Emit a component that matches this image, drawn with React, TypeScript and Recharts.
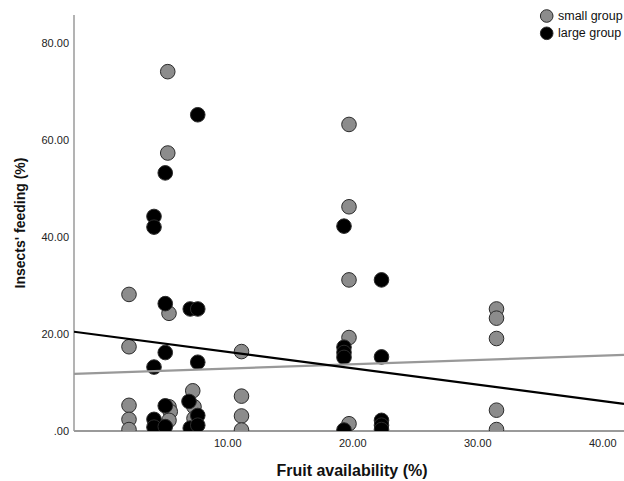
import React from 'react';
import { ScatterChart, Scatter, XAxis, YAxis } from 'recharts';

// values
const smallX = [5.2, 5.2, 2.1, 5.3, 2.1, 11.1, 2.1, 2.1, 2.1, 5.3, 5.4, 5.3, 7.2, 7.3, 7.3, 11.1, 11.1, 11.1, 19.7, 19.7, 19.7, 19.7, 19.7, 31.5, 31.5, 31.5, 31.5, 31.5];
const smallY = [74.2, 57.4, 28.2, 24.3, 17.4, 16.4, 5.3, 2.4, 0.3, 5.0, 4.0, 2.2, 8.3, 5.0, 2.6, 7.2, 3.1, 0.2, 63.3, 46.3, 31.2, 19.3, 1.5, 25.2, 23.3, 19.1, 4.3, 0.3];

const largeX = [7.6, 5.0, 4.1, 4.1, 5.0, 7.0, 7.6, 5.0, 4.1, 7.6, 5.0, 6.9, 7.6, 4.1, 4.1, 5.0, 7.0, 7.6, 19.3, 22.3, 19.3, 19.3, 19.3, 22.3, 19.3, 22.3, 22.3, 22.3];
const largeY = [65.3, 53.3, 44.3, 42.1, 26.3, 25.2, 25.2, 16.2, 13.2, 14.2, 5.2, 6.1, 3.2, 2.4, 0.8, 0.9, 0.6, 1.2, 42.3, 31.2, 17.3, 16.2, 15.2, 15.3, 0.2, 2.2, 1.2, 0.3];

// fitted lines, values at the ends of the x axis
const fitX = [-2.3, 41.7];
const fitSmallY = [11.8, 15.7];
const fitLargeY = [20.5, 5.6];

const xTicks = [10, 20, 30, 40];
const yTicks = [0, 20, 40, 60, 80];
const seriesNames = ['small group', 'large group'];

const toPoints = (xs: number[], ys: number[]) => xs.map((x, i) => ({ x, y: ys[i] }));

const smallData = toPoints(smallX, smallY);
const largeData = toPoints(largeX, largeY);
const fitSmall = toPoints(fitX, fitSmallY);
const fitLarge = toPoints(fitX, fitLargeY);

const FONT = '"Liberation Sans", Arial, sans-serif';

const dot = (fill: string) => (props: any) => (
  <circle cx={props.cx} cy={props.cy} r={7.3} fill={fill} stroke="#2b2b2b" strokeWidth={1} />
);

const fmt = (v: number) => (v === 0 ? '.00' : v.toFixed(2));

export default function App() {
  return (
    <div style={{ position: 'absolute', left: 0, top: 0, width: 624, height: 481, background: '#fff', fontFamily: FONT }}>
      <ScatterChart width={624} height={481} margin={{ top: 15, right: 0, bottom: 0, left: 0 }}>
        <XAxis
          type="number"
          dataKey="x"
          domain={[-2.3, 41.7]}
          allowDataOverflow
          ticks={xTicks}
          tickFormatter={fmt}
          height={50}
          tickLine={false}
          axisLine={{ stroke: '#9a9a9a', strokeWidth: 2 }}
          tick={{ fill: '#222', fontSize: 11, fontFamily: FONT }}
          label={{
            content: () => (
              <text x={352} y={470} textAnchor="middle" dominantBaseline="central" fontSize={16} fontWeight="bold" fill="#111" fontFamily={FONT}>
                Fruit availability (%)
              </text>
            ),
          }}
        />
        <YAxis
          type="number"
          dataKey="y"
          domain={[0, 85.9]}
          allowDataOverflow
          ticks={yTicks}
          tickFormatter={fmt}
          width={74}
          tickLine={false}
          tickSize={3}
          axisLine={{ stroke: '#9a9a9a', strokeWidth: 1.5 }}
          tick={{ fill: '#222', fontSize: 11, fontFamily: FONT }}
          label={{
            content: () => (
              <text x={20} y={223} transform="rotate(-90 20 223)" textAnchor="middle" dominantBaseline="central" fontSize={14} fontWeight="bold" fill="#111" fontFamily={FONT}>
                Insects' feeding (%)
              </text>
            ),
          }}
        />
        <Scatter name={seriesNames[0]} data={smallData} shape={dot('#8c8c8c')} isAnimationActive={false} />
        <Scatter name={seriesNames[1]} data={largeData} shape={dot('#000')} isAnimationActive={false} />
        <Scatter data={fitSmall} line={{ stroke: '#999', strokeWidth: 2.2 }} shape={() => <g />} isAnimationActive={false} />
        <Scatter data={fitLarge} line={{ stroke: '#000', strokeWidth: 2.2 }} shape={() => <g />} isAnimationActive={false} />
      </ScatterChart>
      <svg width={90} height={44} style={{ position: 'absolute', left: 534, top: 0 }}>
        {seriesNames.map((name, i) => (
          <g key={name}>
            <circle cx={12.7} cy={16 + i * 17.3} r={6.3} fill={i === 0 ? '#8c8c8c' : '#000'} stroke="#2b2b2b" strokeWidth={1} />
            <text x={24} y={16 + i * 17.3} dominantBaseline="central" fontSize={12.5} fill="#111" fontFamily={FONT}>
              {name}
            </text>
          </g>
        ))}
      </svg>
    </div>
  );
}
